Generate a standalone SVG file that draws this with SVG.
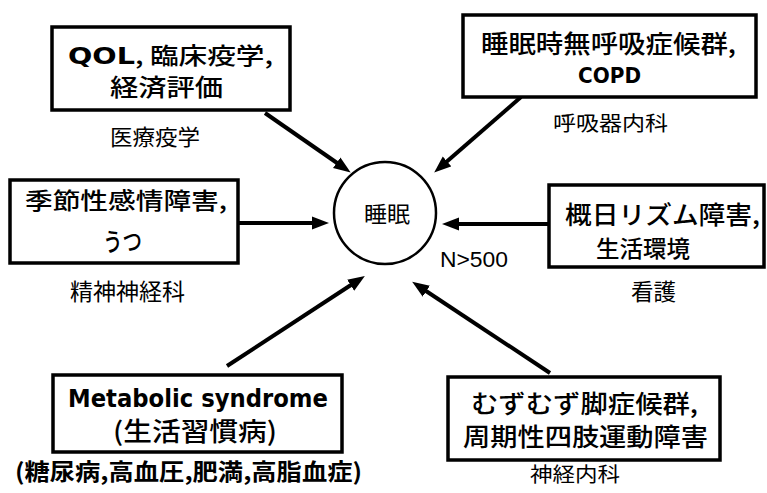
<svg xmlns="http://www.w3.org/2000/svg" width="767" height="493" viewBox="0 0 767 493">
<defs>
<style>
.box{fill:#fff;stroke:#000;stroke-width:3.5}
.t{font-family:"Noto Sans CJK JP","Noto Sans",sans-serif;fill:#000}
.b{font-weight:500}
.lat{font-family:"DejaVu Sans","Noto Sans CJK JP",sans-serif;font-weight:bold;fill:#000}
.arr{stroke:#000;stroke-width:4;fill:none;marker-end:url(#ah)}
</style>
<marker id="ah" markerUnits="userSpaceOnUse" markerWidth="18" markerHeight="14" refX="4" refY="7" orient="auto">
<path d="M0,0.5 L17,7 L0,13.5 z" fill="#000"/>
</marker>
</defs>
<rect width="767" height="493" fill="#fff"/>
<g id="connectors">
<line class="arr" x1="265" y1="113" x2="340" y2="165"/>
<line class="arr" x1="521" y1="97" x2="444" y2="164"/>
<line class="arr" x1="238" y1="223" x2="316" y2="223"/>
<line class="arr" x1="548" y1="224" x2="455" y2="224"/>
<line class="arr" x1="227" y1="366" x2="354" y2="283"/>
<line class="arr" x1="550" y1="373" x2="423" y2="289"/>
</g>
<g id="sleep">
<circle cx="385" cy="213" r="51" fill="#fff" stroke="#000" stroke-width="2.5"/>
<text class="t" x="364" y="222" font-size="22" textLength="46" lengthAdjust="spacingAndGlyphs">睡眠</text>
</g>
<text id="n500" x="440" y="267" font-family="Liberation Sans, sans-serif" font-size="22" textLength="68" lengthAdjust="spacingAndGlyphs">N&gt;500</text>
<g id="qol">
<rect class="box" x="52" y="27" width="238" height="83"/>
<text class="t b" x="68" y="64" font-size="23" textLength="205" lengthAdjust="spacingAndGlyphs"><tspan class="lat">QOL</tspan>, 臨床疫学,</text>
<text class="t b" x="110" y="96" font-size="24" textLength="113" lengthAdjust="spacingAndGlyphs">経済評価</text>
<text class="t" x="110" y="145" font-size="22" textLength="90" lengthAdjust="spacingAndGlyphs">医療疫学</text>
</g>
<g id="apnea">
<rect class="box" x="463" y="15" width="293" height="82"/>
<text class="t b" x="481" y="53" font-size="25" textLength="255" lengthAdjust="spacingAndGlyphs">睡眠時無呼吸症候群,</text>
<text class="lat" x="578" y="83" font-size="22" textLength="63" lengthAdjust="spacingAndGlyphs">COPD</text>
<text class="t" x="553" y="131" font-size="20" textLength="115" lengthAdjust="spacingAndGlyphs">呼吸器内科</text>
</g>
<g id="sad">
<rect class="box" x="10" y="180" width="228" height="83"/>
<text class="t b" x="25" y="209" font-size="23" textLength="202" lengthAdjust="spacingAndGlyphs">季節性感情障害,</text>
<text class="t b" x="103" y="251" font-size="25" textLength="39" lengthAdjust="spacingAndGlyphs">うつ</text>
<text class="t" x="70" y="300" font-size="23" textLength="115" lengthAdjust="spacingAndGlyphs">精神神経科</text>
</g>
<g id="circadian">
<rect class="box" x="549" y="185" width="215" height="82"/>
<text class="t b" x="565" y="224" font-size="25" textLength="195" lengthAdjust="spacingAndGlyphs">概日リズム障害,</text>
<text class="t b" x="596" y="257" font-size="23" textLength="94" lengthAdjust="spacingAndGlyphs">生活環境</text>
<text class="t" x="631" y="300" font-size="23" textLength="45" lengthAdjust="spacingAndGlyphs">看護</text>
</g>
<g id="metabolic">
<rect class="box" x="53" y="375" width="289" height="77"/>
<text class="lat" x="68" y="407" font-size="24" textLength="260" lengthAdjust="spacingAndGlyphs">Metabolic syndrome</text>
<text class="t b" x="113" y="441" font-size="26" textLength="164" lengthAdjust="spacingAndGlyphs">(生活習慣病)</text>
<text class="t" x="15" y="480" font-size="23" font-weight="bold" textLength="347" lengthAdjust="spacingAndGlyphs">(糖尿病,高血圧,肥満,高脂血症)</text>
</g>
<g id="rls">
<rect class="box" x="448" y="377" width="272" height="83"/>
<text class="t b" x="471" y="413" font-size="25" textLength="227" lengthAdjust="spacingAndGlyphs">むずむず脚症候群,</text>
<text class="t b" x="463" y="446" font-size="25" textLength="245" lengthAdjust="spacingAndGlyphs">周期性四肢運動障害</text>
<text class="t" x="530" y="482" font-size="20" textLength="90" lengthAdjust="spacingAndGlyphs">神経内科</text>
</g>
</svg>
